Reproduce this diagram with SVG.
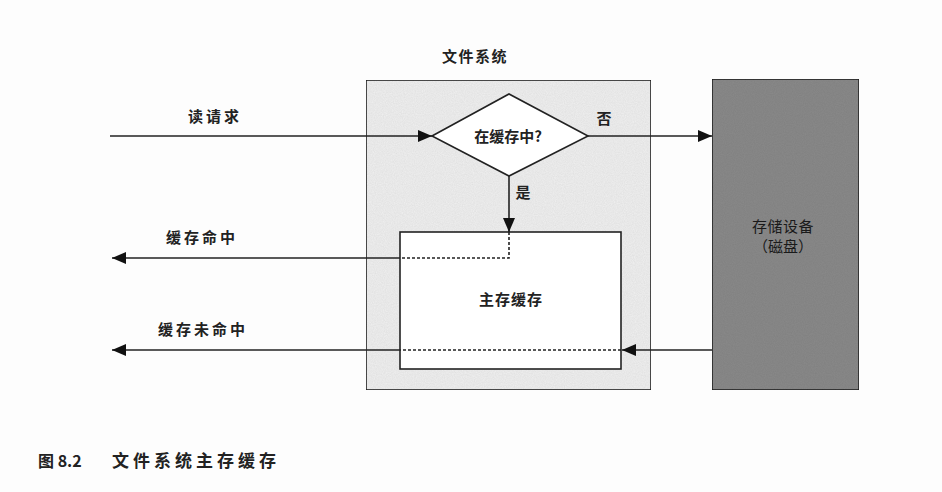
<svg xmlns="http://www.w3.org/2000/svg" width="942" height="492" viewBox="0 0 942 492">
<defs>
<style>
.t{font-family:"Noto Sans CJK SC","Liberation Serif",serif;font-size:15px;fill:#222;text-anchor:middle;}
.b{font-weight:bold;}
.ln{stroke:#222;stroke-width:1.6;fill:none;}
.dot{stroke:#222;stroke-width:1.6;fill:none;stroke-dasharray:3 2;}
</style>
<filter id="nz" x="0" y="0" width="100%" height="100%">
<feTurbulence type="fractalNoise" baseFrequency="0.9" numOctaves="2" seed="3" result="n"/>
<feColorMatrix in="n" type="matrix" values="0 0 0 0 0  0 0 0 0 0  0 0 0 0 0  0 0 0 0.15 0" result="m"/>
<feComposite in="m" in2="SourceGraphic" operator="in" result="c"/>
<feMerge><feMergeNode in="SourceGraphic"/><feMergeNode in="c"/></feMerge>
</filter>
<marker id="arL" viewBox="0 0 14 12" refX="14" refY="6" markerWidth="14" markerHeight="12" markerUnits="userSpaceOnUse" orient="auto">
<path d="M0,0 L14,6 L0,12 z" fill="#111"/>
</marker>
</defs>
<rect width="942" height="492" fill="#fdfdfd"/>
<g id="filesystem">
<rect x="366" y="80" width="285" height="310" fill="#f0f0f0" stroke="#222" stroke-width="1.6" filter="url(#nz)"/>
<text class="t b" x="475" y="62" letter-spacing="1.5">文件系统</text>
</g>
<g id="storage">
<rect x="712" y="79" width="147" height="311" fill="#8a8a8a" stroke="#222" stroke-width="1.6" filter="url(#nz)"/>
<text class="t" x="783" y="232" style="fill:#1a1a1a" letter-spacing="0.5">存储设备</text>
<text class="t" x="783" y="252" style="fill:#1a1a1a">（磁盘）</text>
</g>
<g id="decision">
<polygon points="432,136 509,94 588,136 509,176" fill="#fff" stroke="#222" stroke-width="1.6"/>
<text class="t b" x="508" y="142">在缓存中?</text>
</g>
<g id="cache">
<rect x="400" y="232" width="221" height="137" fill="#fff" stroke="#222" stroke-width="1.6"/>
<text class="t b" x="511" y="305" letter-spacing="1">主存缓存</text>
</g>
<g id="connectors">
<line class="ln" x1="110" y1="136" x2="432" y2="136" marker-end="url(#arL)"/>
<line class="ln" x1="588" y1="136" x2="712" y2="136" marker-end="url(#arL)"/>
<line class="ln" x1="509" y1="176" x2="509" y2="232" marker-end="url(#arL)"/>
<polyline class="dot" points="509,232 509,258 400,258"/>
<line class="ln" x1="400" y1="258" x2="112" y2="258" marker-end="url(#arL)"/>
<line class="ln" x1="712" y1="350" x2="622" y2="350" marker-end="url(#arL)"/>
<line class="dot" x1="621" y1="350" x2="400" y2="350"/>
<line class="ln" x1="400" y1="350" x2="112" y2="350" marker-end="url(#arL)"/>
</g>
<g id="labels">
<text class="t b" x="215" y="122" letter-spacing="3">读请求</text>
<text class="t b" x="604" y="124">否</text>
<text class="t b" x="523" y="198">是</text>
<text class="t b" x="202" y="243" letter-spacing="3">缓存命中</text>
<text class="t b" x="203" y="335" letter-spacing="3">缓存未命中</text>
</g>
<g id="caption">
<text class="t b" x="38" y="467" style="text-anchor:start;font-size:16px">图 8.2</text>
<text class="t b" x="112" y="467" style="text-anchor:start;font-size:17px" letter-spacing="4">文件系统主存缓存</text>
</g>
</svg>
